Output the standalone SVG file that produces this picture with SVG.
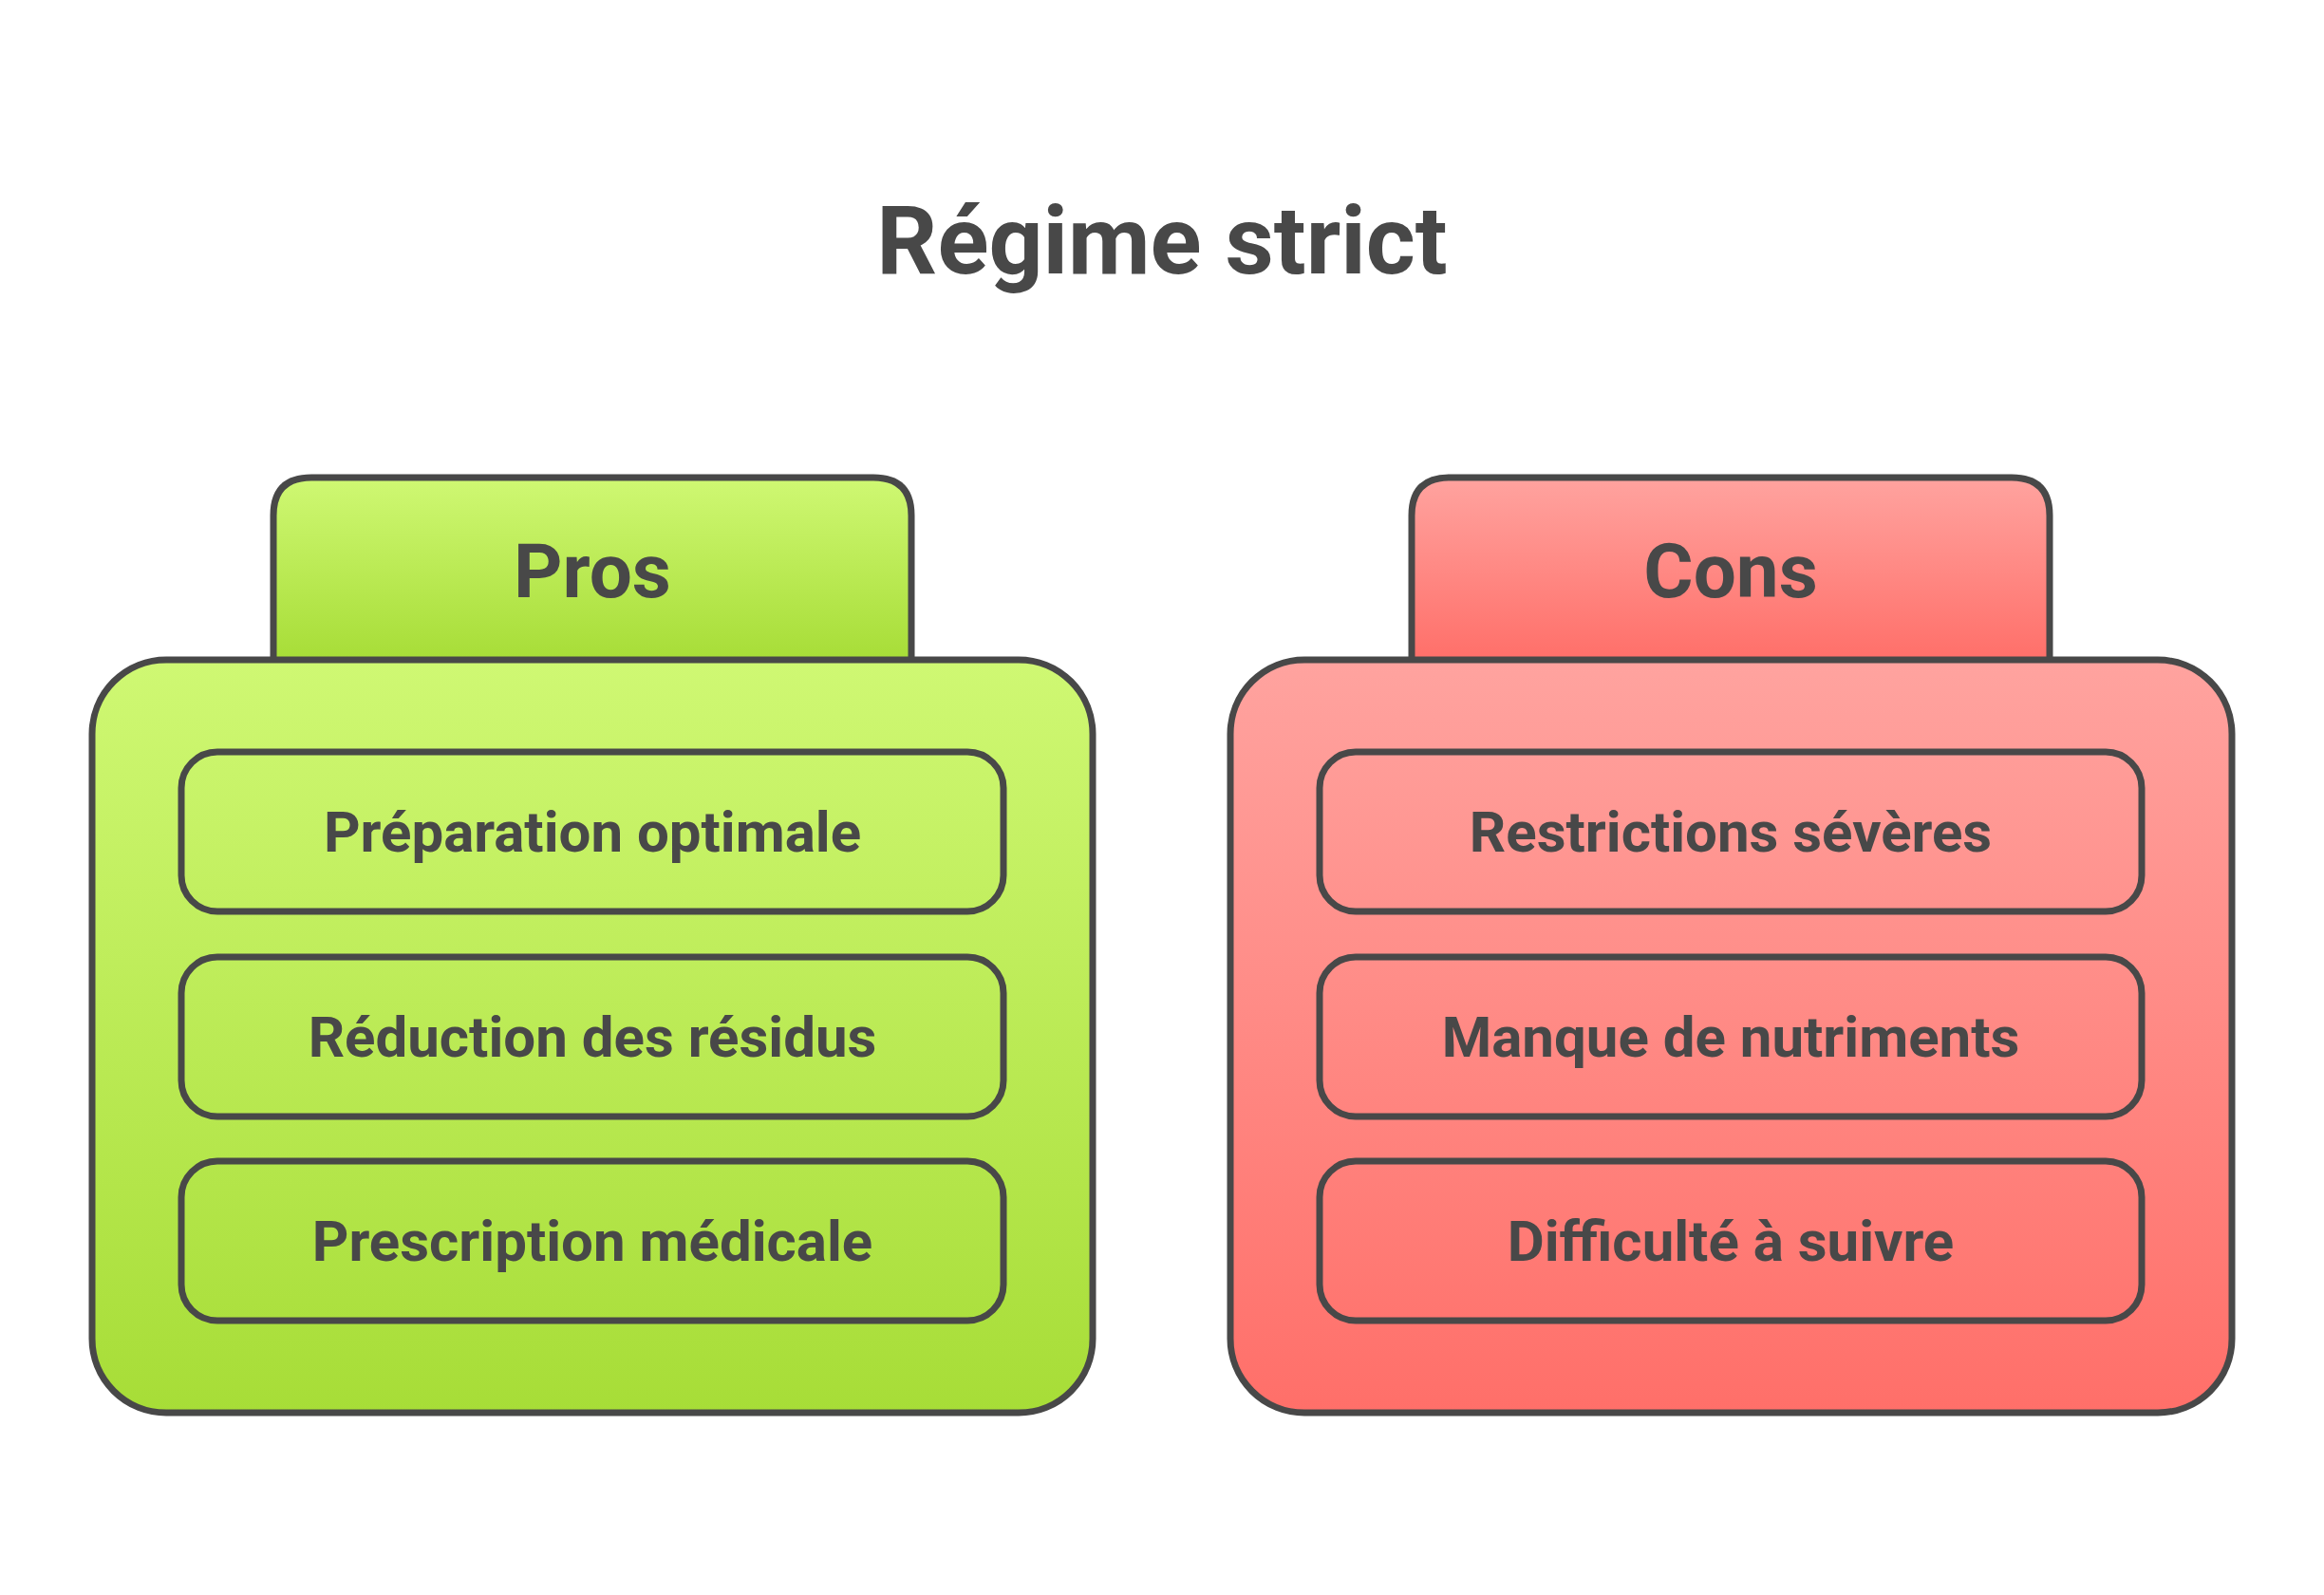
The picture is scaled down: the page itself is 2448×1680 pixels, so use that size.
<svg xmlns="http://www.w3.org/2000/svg" width="2448" height="1680" viewBox="0 0 2448 1680">
<defs>
<linearGradient id="gTab" x1="0" y1="0" x2="0" y2="1"><stop offset="0" stop-color="#CFF873"/><stop offset="1" stop-color="#A7DD37"/></linearGradient>
<linearGradient id="gMain" gradientUnits="userSpaceOnUse" x1="0" y1="695" x2="0" y2="1488"><stop offset="0" stop-color="#CFF873"/><stop offset="1" stop-color="#A7DD37"/></linearGradient>
<linearGradient id="rTab" x1="0" y1="0" x2="0" y2="1"><stop offset="0" stop-color="#FFA39F"/><stop offset="1" stop-color="#FF6F69"/></linearGradient>
<linearGradient id="rMain" gradientUnits="userSpaceOnUse" x1="0" y1="695" x2="0" y2="1488"><stop offset="0" stop-color="#FFA39F"/><stop offset="1" stop-color="#FF6F69"/></linearGradient>
<style>
.s{stroke:#484848;stroke-width:7}
text{font-family:Roboto,"Liberation Sans",sans-serif;font-weight:700;fill:#484848;text-anchor:middle}
.t{font-size:100px}
.h{font-size:80px}
.i{font-size:60px}
</style>
</defs>
<rect width="2448" height="1680" fill="#FFFFFF"/>
<text id="title" class="t" x="1224" y="288">Régime strict</text>
<g id="pros">
<path class="s" fill="url(#gTab)" d="M288 696 V543 Q288 503 328 503 H920 Q960 503 960 543 V696"/>
<rect class="s" fill="url(#gMain)" x="97" y="695" width="1054" height="793" rx="78"/>
<text class="h" x="624" y="629">Pros</text>
</g>
<g id="pro1"><rect class="s" fill="url(#gMain)" x="191" y="792" width="866" height="168" rx="38"/><text class="i" x="624" y="897">Préparation optimale</text></g>
<g id="pro2"><rect class="s" fill="url(#gMain)" x="191" y="1008" width="866" height="168" rx="38"/><text class="i" x="624" y="1113">Réduction des résidus</text></g>
<g id="pro3"><rect class="s" fill="url(#gMain)" x="191" y="1223" width="866" height="168" rx="38"/><text class="i" x="624" y="1328">Prescription médicale</text></g>
<g id="cons">
<path class="s" fill="url(#rTab)" d="M1487 696 V543 Q1487 503 1527 503 H2119 Q2159 503 2159 543 V696"/>
<rect class="s" fill="url(#rMain)" x="1296" y="695" width="1055" height="793" rx="78"/>
<text class="h" x="1823" y="629">Cons</text>
</g>
<g id="con1"><rect class="s" fill="url(#rMain)" x="1390" y="792" width="866" height="168" rx="38"/><text class="i" x="1823" y="897">Restrictions sévères</text></g>
<g id="con2"><rect class="s" fill="url(#rMain)" x="1390" y="1008" width="866" height="168" rx="38"/><text class="i" x="1823" y="1113">Manque de nutriments</text></g>
<g id="con3"><rect class="s" fill="url(#rMain)" x="1390" y="1223" width="866" height="168" rx="38"/><text class="i" x="1823" y="1328">Difficulté à suivre</text></g>
<g id="connectors"/>
</svg>
